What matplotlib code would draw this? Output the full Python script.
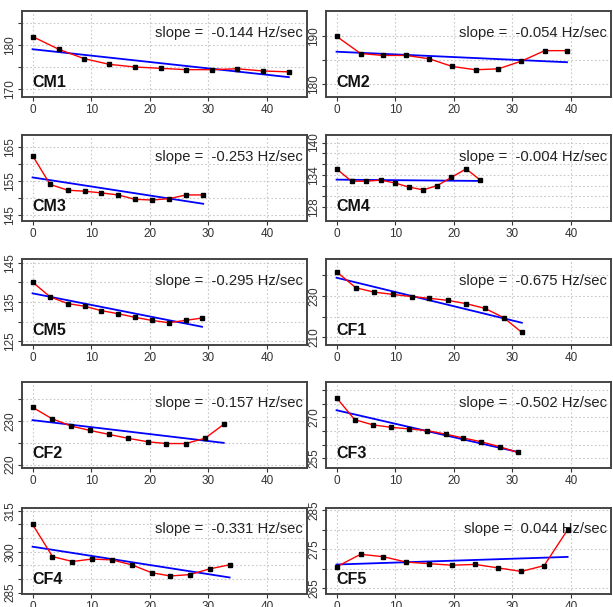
import matplotlib
matplotlib.use("Agg")
import matplotlib.pyplot as plt
import numpy as np

plt.rcParams['font.family'] = ['Liberation Sans', 'DejaVu Sans']

# panel names and reported slopes
names = ["CM1", "CM2", "CM3", "CM4", "CM5", "CF1", "CF2", "CF3", "CF4", "CF5"]
slopes = ["-0.144", "-0.054", "-0.253", "-0.004", "-0.295",
          "-0.675", "-0.157", "-0.502", "-0.331", "0.044"]

# time (sec) of each measurement
t_cm1 = [0, 4.5, 8.8, 13.1, 17.5, 21.9, 26.2, 30.6, 34.9, 39.3, 43.7]
t_cm2 = [0, 4.1, 7.9, 11.9, 15.8, 19.7, 23.7, 27.6, 31.5, 35.5, 39.3]
t_cm3 = [0, 3.0, 6.0, 8.9, 11.7, 14.6, 17.5, 20.4, 23.3, 26.2, 29.1]
t_cm4 = [0, 2.55, 5.0, 7.5, 9.9, 12.35, 14.8, 17.2, 19.55, 22.1, 24.5]
t_cm5 = [0, 3.0, 6.0, 8.9, 11.7, 14.6, 17.4, 20.3, 23.2, 26.1, 28.9]
t_cf1 = [0, 3.3, 6.4, 9.6, 12.8, 15.8, 19.0, 22.1, 25.3, 28.5, 31.6]
t_cf2 = [0, 3.3, 6.6, 9.8, 13.0, 16.3, 19.7, 22.8, 26.1, 29.4, 32.6]
t_cf3 = [0, 3.1, 6.2, 9.3, 12.4, 15.5, 18.6, 21.6, 24.7, 27.8, 30.9]
t_cf4 = [0, 3.4, 6.8, 10.1, 13.5, 16.9, 20.3, 23.5, 26.8, 30.2, 33.6]
t_cf5 = [0, 4.1, 7.9, 11.9, 15.7, 19.7, 23.6, 27.6, 31.5, 35.4, 39.4]

# frequency (Hz)
f_cm1 = [181.9, 179.0, 176.9, 175.6, 175.0, 174.7, 174.4, 174.4, 174.6, 174.1, 173.9]
f_cm2 = [190.0, 186.4, 186.0, 186.0, 185.3, 183.7, 183.0, 183.2, 184.8, 187.0, 187.0]
f_cm3 = [162.5, 154.0, 152.3, 152.0, 151.5, 150.9, 149.6, 149.4, 149.8, 150.9, 150.9]
f_cm4 = [135.1, 132.8, 132.8, 133.0, 132.5, 131.7, 131.2, 132.0, 133.5, 135.1, 133.0]
f_cm5 = [140.1, 136.3, 134.6, 133.9, 132.8, 132.0, 131.1, 130.3, 129.7, 130.3, 130.9]
f_cf1 = [241.8, 234.0, 231.9, 230.8, 229.7, 228.9, 227.9, 226.3, 224.0, 219.5, 212.3]
f_cf2 = [233.1, 230.5, 228.8, 227.8, 226.9, 226.0, 225.2, 224.8, 224.8, 226.0, 229.2]
f_cf3 = [277.1, 269.1, 267.2, 266.3, 265.7, 265.1, 263.8, 262.4, 261.0, 259.2, 257.1]
f_cf4 = [310.0, 298.2, 296.4, 297.3, 297.0, 295.2, 292.3, 291.1, 291.6, 293.7, 295.2]
f_cf5 = [270.5, 273.7, 273.1, 271.7, 271.3, 270.9, 271.1, 270.2, 269.3, 270.8, 280.0]

times = [t_cm1, t_cm2, t_cm3, t_cm4, t_cm5, t_cf1, t_cf2, t_cf3, t_cf4, t_cf5]
freqs = [f_cm1, f_cm2, f_cm3, f_cm4, f_cm5, f_cf1, f_cf2, f_cf3, f_cf4, f_cf5]

# y axis settings for each panel
ylims = [(168.2, 187.7), (177.3, 195.3), (143.2, 168.6), (125.4, 141.4), (124, 146),
         (206.2, 248), (219.2, 238.9), (251.4, 282.9), (284.5, 316), (263.5, 285.6)]
ygrid = [[170, 175, 180, 185], [180, 185, 190], [145, 150, 155, 160, 165],
         [128, 130, 132, 134, 136, 138, 140], [125, 130, 135, 140, 145],
         [210, 220, 230, 240], [220, 225, 230, 235], [255, 260, 265, 270, 275, 280],
         [285, 290, 295, 300, 305, 310, 315], [265, 270, 275, 280, 285]]
ylabels = [[170, 180], [180, 190], [145, 155, 165], [128, 134, 140], [125, 135, 145],
           [210, 230], [220, 230], [255, 270], [285, 300, 315], [265, 275, 285]]
xticks = [0, 10, 20, 30, 40]

W, H = 613, 607
fig = plt.figure(figsize=(W / 100, H / 100), dpi=100)

col_left = [22, 326]
col_w = 285
row_top = [11, 135, 259, 382, 508]
row_h = 86

for i in range(10):
    row = i // 2
    col = i % 2
    ax = fig.add_axes([col_left[col] / W, 1 - (row_top[row] + row_h) / H,
                       col_w / W, row_h / H])
    x = np.array(times[i])
    y = np.array(freqs[i])

    ax.grid(True, color='#c8c8c8', linestyle=(0, (1.5, 2)), linewidth=0.8)
    ax.set_axisbelow(True)

    # linear fit
    b, a = np.polyfit(x, y, 1)
    ax.plot(x, a + b * x, color='blue', linewidth=1.3, zorder=2)
    ax.plot(x, y, color='red', linewidth=1.0, zorder=3)
    ax.plot(x, y, 's', color='black', markersize=3.2, zorder=4)

    ax.set_xlim(-1.8, 46.8)
    ax.set_ylim(*ylims[i])
    ax.set_xticks(xticks)
    ax.set_yticks(ygrid[i])
    ax.set_yticklabels([str(v) if v in ylabels[i] else "" for v in ygrid[i]],
                       rotation=90, va='center')
    ax.tick_params(axis='both', colors='#333333', labelsize=8.5, length=3,
                   width=0.8, pad=2)
    ax.tick_params(axis='y', pad=1)

    for s in ax.spines.values():
        s.set_color('#444444')
        s.set_linewidth(1.4)

    ax.text(0.985, 0.75, "slope =  " + slopes[i] + " Hz/sec", transform=ax.transAxes,
            ha='right', va='center', fontsize=10.6, color='#222222')
    ax.text(0.035, 0.17, names[i], transform=ax.transAxes, ha='left', va='center',
            fontsize=11.5, fontweight='bold', color='#111111')

fig.savefig("out.png", dpi=100)
